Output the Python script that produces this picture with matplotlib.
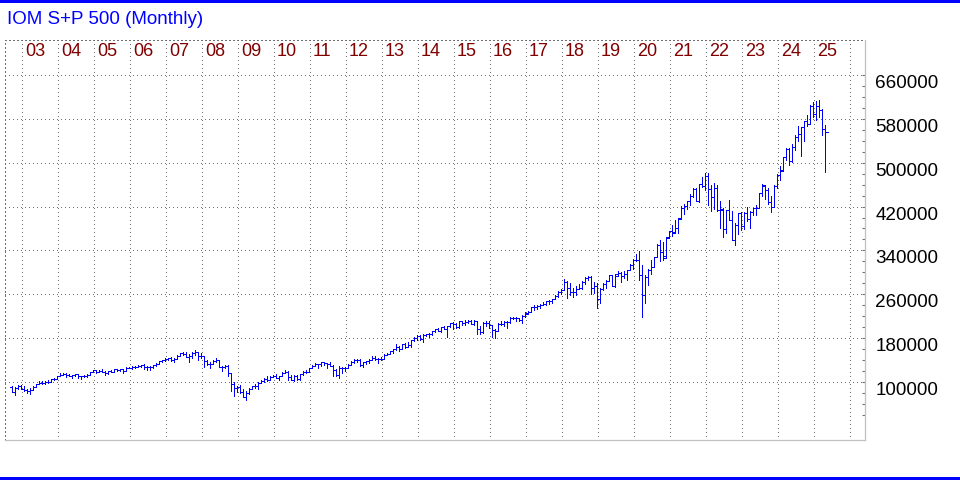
import matplotlib.pyplot as plt
from matplotlib.collections import LineCollection
from matplotlib.patches import Rectangle
from matplotlib.ticker import FixedLocator
import matplotlib.transforms as mtransforms
import numpy as np

plt.rcParams['font.family'] = ['Liberation Sans', 'DejaVu Sans']

title = 'IOM S+P 500 (Monthly)'
first_year, first_month = 2002, 9      # first bar is Sep 2002
price_scale = 100                      # chart quotes the index x 100
year_labels = ['03', '04', '05', '06', '07', '08', '09', '10', '11', '12', '13', '14',
               '15', '16', '17', '18', '19', '20', '21', '22', '23', '24', '25']
y_ticks = list(range(100000, 660001, 80000))
y_minor = list(range(40000, 660001, 20000))

# monthly bars in index points, one line per year
opens = [
    916, 815, 886, 936,
    880, 856, 841, 848, 917, 964, 975, 990, 1008, 996, 1051, 1058,
    1112, 1131, 1145, 1126, 1107, 1121, 1141, 1102, 1104, 1115, 1130, 1174,
    1212, 1181, 1204, 1181, 1157, 1192, 1191, 1234, 1220, 1229, 1207, 1249,
    1248, 1280, 1281, 1295, 1311, 1270, 1270, 1277, 1304, 1336, 1378, 1401,
    1418, 1438, 1407, 1421, 1482, 1531, 1503, 1455, 1474, 1527, 1546, 1481,
    1468, 1379, 1331, 1326, 1386, 1400, 1280, 1267, 1283, 1166, 969, 896,
    903, 826, 735, 798, 873, 919, 919, 987, 1021, 1057, 1036, 1096,
    1115, 1074, 1104, 1169, 1187, 1089, 1031, 1102, 1049, 1141, 1183, 1181,
    1258, 1289, 1327, 1326, 1364, 1345, 1321, 1292, 1219, 1131, 1253, 1247,
    1258, 1312, 1366, 1408, 1398, 1310, 1362, 1379, 1407, 1441, 1412, 1416,
    1426, 1498, 1515, 1569, 1598, 1631, 1606, 1686, 1633, 1682, 1757, 1806,
    1848, 1783, 1859, 1872, 1884, 1924, 1960, 1931, 2003, 1972, 2018, 2068,
    2059, 1995, 2105, 2068, 2086, 2107, 2063, 2104, 1972, 1920, 2079, 2080,
    2038, 1940, 1932, 2060, 2065, 2097, 2099, 2174, 2171, 2168, 2126, 2199,
    2252, 2279, 2364, 2363, 2384, 2412, 2423, 2470, 2472, 2519, 2575, 2648,
    2684, 2824, 2714, 2641, 2648, 2705, 2718, 2816, 2902, 2914, 2712, 2760,
    2507, 2704, 2784, 2849, 2946, 2752, 2971, 2980, 2926, 2977, 3051, 3141,
    3231, 3226, 2954, 2585, 2912, 3044, 3100, 3288, 3500, 3363, 3296, 3646,
    3756, 3731, 3811, 3993, 4181, 4204, 4298, 4395, 4523, 4308, 4605, 4567,
    4766, 4516, 4374, 4530, 4132, 4149, 3785, 4130, 3955, 3586, 3872, 4080,
    3840, 4077, 3970, 4109, 4169, 4180, 4450, 4578, 4508, 4288, 4198, 4568,
    4770, 4861, 5096, 5254, 5036, 5278, 5460, 5522, 5648, 5762, 5705, 6032,
    5882, 6041, 5955, 5612,
]
highs = [
    924, 900, 951, 954,
    935, 865, 896, 924, 965, 1015, 1015, 1011, 1040, 1054, 1064, 1112,
    1155, 1159, 1163, 1151, 1128, 1146, 1141, 1109, 1132, 1142, 1189, 1218,
    1218, 1212, 1229, 1192, 1200, 1220, 1245, 1246, 1243, 1233, 1271, 1276,
    1295, 1298, 1311, 1318, 1327, 1291, 1283, 1307, 1340, 1390, 1408, 1432,
    1442, 1462, 1439, 1498, 1536, 1541, 1556, 1504, 1539, 1576, 1553, 1524,
    1472, 1396, 1360, 1397, 1440, 1404, 1292, 1313, 1303, 1167, 1008, 919,
    944, 875, 833, 889, 930, 956, 997, 1040, 1080, 1101, 1114, 1130,
    1150, 1112, 1180, 1220, 1206, 1131, 1121, 1129, 1149, 1196, 1227, 1263,
    1303, 1344, 1332, 1371, 1371, 1345, 1357, 1307, 1229, 1293, 1278, 1269,
    1334, 1378, 1419, 1422, 1415, 1364, 1392, 1427, 1475, 1471, 1434, 1448,
    1510, 1531, 1570, 1598, 1687, 1654, 1699, 1710, 1730, 1775, 1814, 1849,
    1851, 1868, 1884, 1897, 1924, 1968, 1991, 2005, 2019, 2018, 2076, 2094,
    2072, 2120, 2118, 2126, 2135, 2130, 2133, 2113, 2021, 2094, 2117, 2104,
    2038, 1963, 2072, 2111, 2104, 2121, 2177, 2194, 2188, 2170, 2214, 2278,
    2301, 2372, 2401, 2398, 2419, 2454, 2484, 2491, 2519, 2583, 2658, 2695,
    2873, 2836, 2802, 2718, 2742, 2792, 2848, 2917, 2941, 2940, 2815, 2800,
    2709, 2814, 2860, 2950, 2954, 2964, 3028, 3014, 3022, 3050, 3154, 3248,
    3338, 3394, 3137, 2955, 3069, 3233, 3280, 3515, 3588, 3550, 3646, 3760,
    3871, 3950, 3994, 4219, 4238, 4302, 4430, 4537, 4546, 4608, 4744, 4809,
    4819, 4595, 4637, 4594, 4308, 4178, 4140, 4325, 4119, 3905, 4080, 4101,
    4094, 4195, 4111, 4170, 4231, 4449, 4607, 4585, 4541, 4394, 4588, 4793,
    4931, 5111, 5265, 5264, 5342, 5506, 5670, 5652, 5767, 5879, 6044, 6100,
    6128, 6147, 5986, 5695,
]
lows = [
    815, 769, 872, 872,
    840, 806, 789, 847, 903, 963, 962, 961, 990, 996, 1031, 1058,
    1105, 1124, 1087, 1105, 1076, 1113, 1079, 1061, 1099, 1090, 1128, 1174,
    1164, 1180, 1177, 1136, 1146, 1188, 1184, 1201, 1205, 1168, 1201, 1247,
    1246, 1254, 1268, 1281, 1245, 1219, 1225, 1261, 1291, 1327, 1361, 1386,
    1404, 1389, 1364, 1416, 1477, 1484, 1454, 1371, 1439, 1490, 1406, 1436,
    1270, 1317, 1257, 1324, 1373, 1272, 1200, 1248, 1106, 840, 741, 816,
    804, 735, 667, 783, 866, 889, 869, 979, 991, 1020, 1029, 1086,
    1072, 1045, 1101, 1166, 1041, 1028, 1011, 1040, 1040, 1132, 1173, 1174,
    1258, 1289, 1249, 1295, 1312, 1258, 1283, 1102, 1114, 1075, 1159, 1202,
    1259, 1301, 1340, 1357, 1292, 1267, 1325, 1355, 1397, 1403, 1343, 1398,
    1426, 1485, 1502, 1536, 1581, 1560, 1605, 1628, 1633, 1647, 1746, 1768,
    1771, 1738, 1834, 1814, 1860, 1916, 1931, 1905, 1964, 1821, 2001, 1973,
    1988, 1981, 2040, 2048, 2068, 2056, 2044, 1867, 1872, 1894, 2019, 1993,
    1812, 1810, 1937, 2034, 2026, 1992, 2074, 2148, 2119, 2115, 2084, 2187,
    2245, 2272, 2322, 2329, 2353, 2406, 2408, 2417, 2447, 2520, 2558, 2606,
    2682, 2533, 2586, 2554, 2595, 2699, 2692, 2796, 2864, 2604, 2631, 2347,
    2444, 2682, 2722, 2849, 2751, 2729, 2952, 2822, 2892, 2856, 3051, 3070,
    3215, 2856, 2192, 2448, 2767, 2966, 3101, 3285, 3210, 3234, 3280, 3633,
    3663, 3726, 3723, 3986, 4057, 4164, 4233, 4368, 4306, 4279, 4560, 4495,
    4223, 4115, 4158, 4124, 3810, 3637, 3722, 3955, 3584, 3492, 3698, 3765,
    3794, 3943, 3809, 4048, 4048, 4166, 4385, 4335, 4239, 4104, 4198, 4547,
    4682, 4853, 5057, 4954, 5011, 5234, 5391, 5119, 5403, 5674, 5697, 5832,
    5773, 5838, 5505, 4835,
]
closes = [
    815, 886, 936, 880,
    856, 841, 848, 917, 964, 975, 990, 1008, 996, 1051, 1058, 1112,
    1131, 1145, 1126, 1107, 1121, 1141, 1102, 1104, 1115, 1130, 1174, 1212,
    1181, 1204, 1181, 1157, 1192, 1191, 1234, 1220, 1229, 1207, 1249, 1248,
    1280, 1281, 1295, 1311, 1270, 1270, 1277, 1304, 1336, 1378, 1401, 1418,
    1438, 1407, 1421, 1482, 1531, 1503, 1455, 1474, 1527, 1549, 1481, 1468,
    1379, 1331, 1323, 1386, 1400, 1280, 1267, 1283, 1166, 969, 896, 903,
    826, 735, 798, 873, 919, 919, 987, 1021, 1057, 1036, 1096, 1115,
    1074, 1104, 1169, 1187, 1089, 1031, 1102, 1049, 1141, 1183, 1181, 1258,
    1286, 1327, 1326, 1364, 1345, 1321, 1292, 1219, 1131, 1253, 1247, 1258,
    1312, 1366, 1408, 1398, 1310, 1362, 1379, 1407, 1441, 1412, 1416, 1426,
    1498, 1515, 1569, 1598, 1631, 1606, 1686, 1633, 1682, 1757, 1806, 1848,
    1783, 1859, 1872, 1884, 1924, 1960, 1931, 2003, 1972, 2018, 2068, 2059,
    1995, 2105, 2068, 2086, 2107, 2063, 2104, 1972, 1920, 2079, 2080, 2044,
    1940, 1932, 2060, 2065, 2097, 2099, 2174, 2171, 2168, 2126, 2199, 2239,
    2279, 2364, 2363, 2384, 2412, 2423, 2470, 2472, 2519, 2575, 2648, 2674,
    2824, 2714, 2641, 2648, 2705, 2718, 2816, 2902, 2914, 2712, 2760, 2507,
    2704, 2784, 2834, 2946, 2752, 2942, 2980, 2926, 2977, 3038, 3141, 3231,
    3226, 2954, 2585, 2912, 3044, 3100, 3271, 3500, 3363, 3270, 3622, 3756,
    3714, 3811, 3973, 4181, 4204, 4298, 4395, 4523, 4308, 4605, 4567, 4766,
    4516, 4374, 4530, 4132, 4132, 3785, 4130, 3955, 3586, 3872, 4080, 3840,
    4077, 3970, 4109, 4169, 4180, 4450, 4589, 4508, 4288, 4194, 4568, 4770,
    4846, 5096, 5254, 5036, 5278, 5460, 5522, 5648, 5762, 5705, 6032, 5882,
    6041, 5955, 5612, 5569,
]

blue = '#0000FF'
grid_col = '#707070'
dots = (0, (1, 3))

o = np.array(opens) * price_scale
h = np.array(highs) * price_scale
l = np.array(lows) * price_scale
c = np.array(closes) * price_scale
# month index, Jan 2003 = 0
start = (first_year - 2003) * 12 + first_month - 1
m = np.arange(len(closes)) + start

fig = plt.figure(figsize=(9.6, 4.8), dpi=100)
ax = fig.add_axes([5 / 960, 40 / 480, 860 / 960, 400 / 480])
ax.set_xlim(-6.47, 280.2)
ax.set_ylim(-5800, 723800)

# OHLC bars
tick = 0.75
segs = []
for xi, oi, hi, li, ci in zip(m, o, h, l, c):
    segs.append([(xi, li), (xi, hi)])
    segs.append([(xi - tick, oi), (xi, oi)])
    segs.append([(xi, ci), (xi + tick, ci)])
ax.add_collection(LineCollection(segs, colors=blue, linewidths=0.55,
                                 antialiaseds=False, zorder=3))

# year separators and labels
year_lines = [12 * k - 0.9 for k in range(len(year_labels) + 1)]
ax.xaxis.set_major_locator(FixedLocator(year_lines))
ax.tick_params(axis='x', which='both', bottom=False, labelbottom=False)
trans = mtransforms.blended_transform_factory(ax.transData, ax.transAxes)
for k, lab in enumerate(year_labels):
    ax.text(year_lines[k] + 1.1, 0.97, lab, transform=trans, ha='left', va='center',
            color='#800000', fontsize=13)

# price axis on the right
ax.yaxis.tick_right()
ax.set_yticks(y_ticks)
ax.set_yticklabels([str(v) for v in y_ticks])
ax.yaxis.set_minor_locator(FixedLocator(y_minor))
ax.tick_params(axis='y', which='both', direction='in', length=2.5, width=0.8,
               color=grid_col, pad=7.5, labelsize=13.6, left=False, right=True)
for t in ax.get_yticklabels():
    t.set_va('top')

ax.grid(True, which='major', color=grid_col, linestyle=dots, linewidth=0.72,
        antialiased=False)

for side in ['top', 'left']:
    ax.spines[side].set_linestyle(dots)
    ax.spines[side].set_color(grid_col)
    ax.spines[side].set_linewidth(0.72)
    ax.spines[side].set_antialiased(False)
for side in ['right', 'bottom']:
    ax.spines[side].set_color('#c0c0c0')
    ax.spines[side].set_linewidth(0.9)

fig.text(7 / 960, 1 - 20 / 480, title, color=blue, fontsize=13.5, ha='left', va='center')
fig.add_artist(Rectangle((0, 1 - 3 / 480), 1, 3 / 480, transform=fig.transFigure,
                         color=blue, lw=0))
fig.add_artist(Rectangle((0, 0), 1, 3 / 480, transform=fig.transFigure,
                         color=blue, lw=0))

fig.savefig('out.png', dpi=100)
